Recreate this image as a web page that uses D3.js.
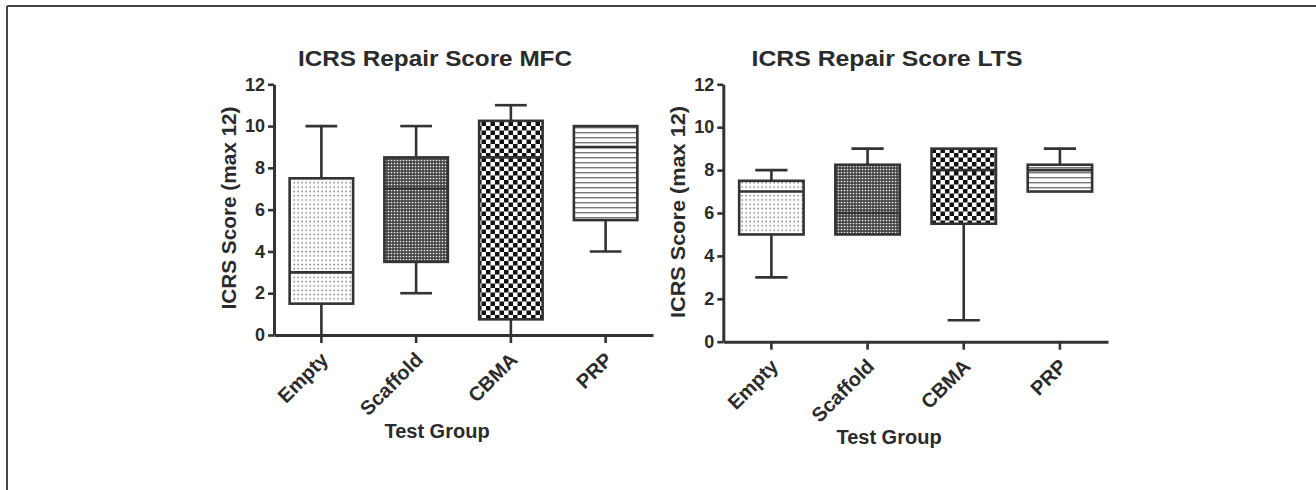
<!DOCTYPE html>
<html>
<head>
<meta charset="utf-8">
<script src="https://cdn.jsdelivr.net/npm/d3@7"></script>
<style>
  html, body { margin: 0; padding: 0; background: #fff; }
  svg { display: block; }
  text { font-family: "Liberation Sans", Arial, Helvetica, sans-serif; font-weight: bold; fill: #2b2b2b; }
</style>
</head>
<body>
<script>
// ---------- data ----------
const categories = ["Empty", "Scaffold", "CBMA", "PRP"];
const yTicks = [0, 2, 4, 6, 8, 10, 12];
const titleMFC = "ICRS Repair Score MFC";
const titleLTS = "ICRS Repair Score LTS";
const yLabel = "ICRS Score (max 12)";
const xLabel = "Test Group";

const mfcMin    = [0,    2,   0,    4];
const mfcQ1     = [1.5,  3.5, 0.75, 5.5];
const mfcMedian = [3,    7,   8.5,  9];
const mfcQ3     = [7.5,  8.5, 10.25, 10];
const mfcMax    = [10,   10,  11,   10];

const ltsMin    = [3,    5,    1,   7];
const ltsQ1     = [5,    5,    5.5, 7];
const ltsMedian = [7,    6,    8,   8];
const ltsQ3     = [7.5,  8.25, 9,   8.25];
const ltsMax    = [8,    9,    9,   9];

const fills = ["url(#patDots)", "url(#patHalftone)", "url(#patChecker)", "url(#patLines)"];

// ---------- svg ----------
const W = 1316, H = 490;
const svg = d3.select("body").append("svg").attr("width", W).attr("height", H);
svg.append("rect").attr("width", W).attr("height", H).attr("fill", "#fff");

// outer frame (top and left)
svg.append("line").attr("x1", 7).attr("y1", 6).attr("x2", W).attr("y2", 6)
  .attr("stroke", "#444").attr("stroke-width", 2);
svg.append("line").attr("x1", 7).attr("y1", 6).attr("x2", 7).attr("y2", H)
  .attr("stroke", "#444").attr("stroke-width", 2);

// patterns
const defs = svg.append("defs");
const pDots = defs.append("pattern").attr("id", "patDots").attr("patternUnits", "userSpaceOnUse")
  .attr("width", 4).attr("height", 4.3);
pDots.append("rect").attr("width", 4).attr("height", 4.3).attr("fill", "#fff");
pDots.append("rect").attr("x", 1.5).attr("y", 1.5).attr("width", 1.4).attr("height", 1.4).attr("fill", "#6f6f6f");

const pHalf = defs.append("pattern").attr("id", "patHalftone").attr("patternUnits", "userSpaceOnUse")
  .attr("width", 3).attr("height", 3);
pHalf.append("rect").attr("width", 3).attr("height", 3).attr("fill", "#444");
pHalf.append("circle").attr("cx", 1.5).attr("cy", 1.5).attr("r", 0.85).attr("fill", "#eee");

const pCheck = defs.append("pattern").attr("id", "patChecker").attr("patternUnits", "userSpaceOnUse")
  .attr("width", 9).attr("height", 9);
pCheck.append("rect").attr("width", 9).attr("height", 9).attr("fill", "#fff");
pCheck.append("rect").attr("x", 0).attr("y", 0).attr("width", 4.5).attr("height", 4.5).attr("fill", "#111");
pCheck.append("rect").attr("x", 4.5).attr("y", 4.5).attr("width", 4.5).attr("height", 4.5).attr("fill", "#111");

const pLines = defs.append("pattern").attr("id", "patLines").attr("patternUnits", "userSpaceOnUse")
  .attr("width", 10).attr("height", 5);
pLines.append("rect").attr("width", 10).attr("height", 5).attr("fill", "#fff");
pLines.append("rect").attr("x", 0).attr("y", 2).attr("width", 10).attr("height", 1.4).attr("fill", "#777");

function drawPanel(cfg) {
  const g = svg.append("g");
  const x = d3.scaleBand().domain(categories).range([cfg.x0, cfg.x1]).padding(0);
  const y = d3.scaleLinear().domain([0, 12]).range([cfg.yBottom, cfg.yTop]);
  const bw = x.step() * 0.67;
  const cap = bw / 2;
  const axisColor = "#333";
  const sw = 2.6;

  // boxes
  categories.forEach((c, i) => {
    const cx = x(c) + x.bandwidth() / 2;
    const bg = g.append("g");
    if (cfg.max[i] > cfg.q3[i]) {
      bg.append("line").attr("x1", cx).attr("x2", cx).attr("y1", y(cfg.q3[i])).attr("y2", y(cfg.max[i]))
        .attr("stroke", axisColor).attr("stroke-width", sw);
      bg.append("line").attr("x1", cx - cap / 2).attr("x2", cx + cap / 2).attr("y1", y(cfg.max[i])).attr("y2", y(cfg.max[i]))
        .attr("stroke", axisColor).attr("stroke-width", sw);
    }
    if (cfg.min[i] < cfg.q1[i]) {
      bg.append("line").attr("x1", cx).attr("x2", cx).attr("y1", y(cfg.q1[i])).attr("y2", y(cfg.min[i]))
        .attr("stroke", axisColor).attr("stroke-width", sw);
      if (cfg.min[i] > 0) {
        bg.append("line").attr("x1", cx - cap / 2).attr("x2", cx + cap / 2).attr("y1", y(cfg.min[i])).attr("y2", y(cfg.min[i]))
          .attr("stroke", axisColor).attr("stroke-width", sw);
      }
    }
    bg.append("rect").attr("x", cx - bw / 2).attr("y", y(cfg.q3[i]))
      .attr("width", bw).attr("height", y(cfg.q1[i]) - y(cfg.q3[i]))
      .attr("fill", fills[i]).attr("stroke", axisColor).attr("stroke-width", sw);
    bg.append("line").attr("x1", cx - bw / 2).attr("x2", cx + bw / 2)
      .attr("y1", y(cfg.median[i])).attr("y2", y(cfg.median[i]))
      .attr("stroke", axisColor).attr("stroke-width", sw);
  });

  // y axis
  const yAxis = d3.axisLeft(y).tickValues(yTicks).tickSize(6).tickSizeOuter(0).tickPadding(3);
  const ya = g.append("g").attr("transform", `translate(${cfg.x0},0)`).call(yAxis);
  ya.select(".domain").attr("stroke", axisColor).attr("stroke-width", 3);
  ya.selectAll(".tick line").attr("stroke", axisColor).attr("stroke-width", 2.6);
  ya.selectAll(".tick text").attr("font-size", 18).attr("font-family", "Liberation Sans, Arial, sans-serif")
    .attr("font-weight", "bold").attr("fill", "#2b2b2b");

  // x axis
  const xAxis = d3.axisBottom(x).tickSize(8).tickSizeOuter(0).tickFormat("");
  const xa = g.append("g").attr("transform", `translate(0,${cfg.yBottom})`).call(xAxis);
  xa.select(".domain").attr("stroke", axisColor).attr("stroke-width", 3);
  xa.selectAll(".tick line").attr("stroke", axisColor).attr("stroke-width", 2.6);

  // rotated category labels
  categories.forEach(c => {
    const cx = x(c) + x.bandwidth() / 2;
    g.append("text").attr("transform", `translate(${cx + 3},${cfg.yBottom + 21}) rotate(-45)`)
      .attr("text-anchor", "end").attr("dy", "0.35em").attr("font-size", 20).text(c);
  });

  // title
  g.append("text").attr("x", cfg.titleX).attr("y", 66).attr("text-anchor", "middle")
    .attr("font-size", 22).attr("textLength", cfg.titleLen).attr("lengthAdjust", "spacingAndGlyphs")
    .text(cfg.title);

  // y label
  g.append("text").attr("transform", `translate(${cfg.yLabX},${cfg.yLabY}) rotate(-90)`)
    .attr("text-anchor", "middle").attr("font-size", 20)
    .attr("textLength", cfg.yLabLen).attr("lengthAdjust", "spacingAndGlyphs").text(yLabel);

  // x label
  g.append("text").attr("x", cfg.xLabX).attr("y", cfg.xLabY).attr("text-anchor", "middle")
    .attr("font-size", 20).text(xLabel);
}

drawPanel({
  x0: 274, x1: 653, yBottom: 335, yTop: 84.3,
  min: mfcMin, q1: mfcQ1, median: mfcMedian, q3: mfcQ3, max: mfcMax,
  title: titleMFC, titleX: 435, titleLen: 274,
  yLabX: 236, yLabY: 208, yLabLen: 203,
  xLabX: 437, xLabY: 438
});

drawPanel({
  x0: 723.3, x1: 1108, yBottom: 341.7, yTop: 84.3,
  min: ltsMin, q1: ltsQ1, median: ltsMedian, q3: ltsQ3, max: ltsMax,
  title: titleLTS, titleX: 887, titleLen: 271,
  yLabX: 685, yLabY: 212, yLabLen: 212,
  xLabX: 889, xLabY: 444
});
</script>
</body>
</html>
